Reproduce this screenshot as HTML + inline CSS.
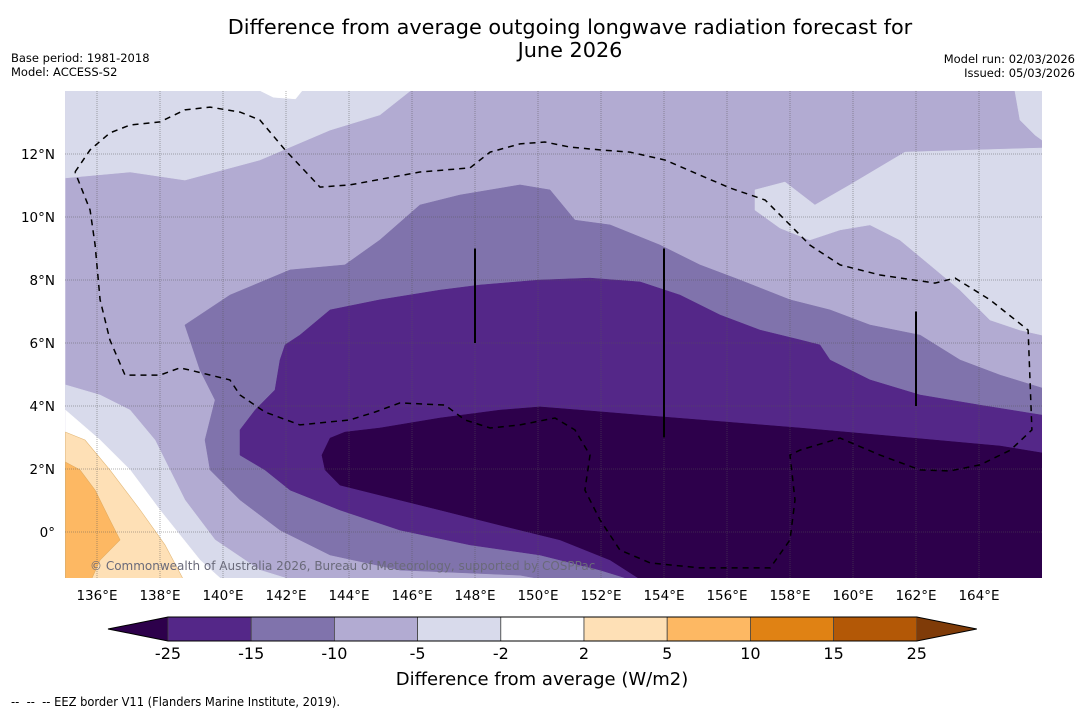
<!DOCTYPE html>
<html><head><meta charset="utf-8">
<style>
html,body{margin:0;padding:0;background:#fff;}
svg{display:block;font-family:"DejaVu Sans","Liberation Sans",sans-serif;}
</style></head>
<body>
<svg id="chart" width="1085" height="713" viewBox="0 0 1085 713">
<text x="570" y="34" text-anchor="middle" font-size="20.8">Difference from average outgoing longwave radiation forecast for</text>
<text x="570" y="57" text-anchor="middle" font-size="20.8">June 2026</text>
<text x="11" y="62" font-size="11.5">Base period: 1981-2018</text>
<text x="11" y="76" font-size="11.5">Model: ACCESS-S2</text>
<text x="1075" y="63" font-size="11.5" text-anchor="end">Model run: 02/03/2026</text>
<text x="1075" y="77" font-size="11.5" text-anchor="end">Issued: 05/03/2026</text>
<defs><clipPath id="mapclip"><rect x="65" y="91" width="977" height="487"/></clipPath></defs>
<g id="map" clip-path="url(#mapclip)"></g>
<g id="axes"></g>
<g id="cbar"></g>
<text x="542" y="685" text-anchor="middle" font-size="18">Difference from average (W/m2)</text>
<text x="11" y="706" font-size="12" textLength="329" lengthAdjust="spacingAndGlyphs" font-family="'DejaVu Sans Condensed','DejaVu Sans',sans-serif">-- &#160;-- &#160;-- EEZ border V11 (Flanders Marine Institute, 2019).</text>
</svg>
<script>
// Axis domain
const lonTicks = [136,138,140,142,144,146,148,150,152,154,156,158,160,162,164];
const latTicks = [0,2,4,6,8,10,12];
const cbLevels = ["-25","-15","-10","-5","-2","2","5","10","15","25"];
const cbColors = ["#542788","#8073ac","#b2abd2","#d8daeb","#ffffff","#fee0b6","#fdb863","#e08214","#b35806"];
const cbLow = "#2d004b", cbHigh = "#7f3b08";

// contour polygons [lon,lat]
const baseFill = [[135,14],[166,14],[166,-1.6],[135,-1.6]];
const lightTopLeft = [[135,14],[145.94,14],[144.98,13.24],[143.4,12.76],[141.17,11.81],[138.79,11.17],[137.05,11.43],[135,11.24]];
const whiteTopPatch = [[141.2,14],[142.5,14],[142.3,13.75],[141.6,13.8]];
const lightTopRight1 = [[165.14,14],[165.3,13.08],[165.78,12.6],[166,12.44],[166,14]];
const lightTopRight2 = [[156.89,10.86],[157.84,11.11],[158.79,10.38],[159.9,11.02],[161.65,12.06],[166,12.19],[166,6.25],[165.3,6.41],[164.35,6.73],[163.4,7.68],[162.44,8.48],[161.49,9.27],[160.54,9.75],[159.59,9.59],[158.63,9.27],[157.68,9.65],[156.89,10.22]];
const lightLeft = [[135,4.67],[136.1,4.35],[137.05,3.87],[137.84,2.92],[138.79,1.02],[139.75,-0.25],[141.17,-1.21],[142.44,-1.6],[135,-1.6]];
const whiteLeft = [[135,3.87],[136.1,2.92],[137.05,1.97],[138,0.7],[139.27,-0.89],[140.06,-1.6],[135,-1.6]];
const orangeLight = [[135,3.17],[135.62,2.92],[136.41,1.97],[137.37,0.7],[138.16,-0.41],[138.79,-1.6],[135,-1.6]];
const orangeMid = [[135,2.22],[135.46,1.97],[135.94,1.33],[136.41,0.38],[136.73,-0.25],[136.1,-0.89],[135.78,-1.6],[135,-1.6]];
const level15 = [[138.79,6.57],[140.22,7.52],[142.13,8.32],[143.87,8.48],[144.98,9.27],[146.25,10.38],[147.52,10.7],[149.43,11.02],[150.38,10.86],[151.17,9.9],[152.29,9.75],[153.87,9.11],[155.14,8.48],[156.41,8],[158,7.37],[159.27,7.05],[160.54,6.57],[162.13,6.25],[163.4,5.46],[164.67,4.98],[166,4.57],[166,-1.6],[150.7,-1.6],[149.43,-1.37],[145.62,-1.21],[143.4,-0.73],[141.81,0.06],[140.54,1.02],[139.59,1.97],[139.43,2.92],[139.75,4.19],[139.27,5.14],[138.95,6.1]];
const level25 = [[141.97,5.94],[142.44,6.25],[143.4,7.05],[144.98,7.37],[146.89,7.68],[148.16,7.84],[150.06,8],[151.65,8.06],[153.24,7.94],[154.51,7.52],[155.78,6.89],[157.05,6.41],[158.32,6.1],[158.95,5.94],[159.27,5.46],[160.54,4.83],[162.13,4.35],[164.03,4.03],[166,3.71],[166,-1.6],[153.24,-1.6],[151.97,-1.21],[150.06,-0.73],[147.84,-0.41],[145.62,0.06],[143.71,0.7],[142.13,1.33],[141.33,1.97],[140.54,2.44],[140.54,3.24],[141.02,3.87],[141.65,4.51],[141.81,5.46]];
const levelMin = [[143.4,2.98],[143.87,3.17],[144.98,3.3],[146.89,3.62],[148.79,3.87],[150.06,3.97],[151.33,3.87],[153.24,3.71],[155.14,3.56],[158.32,3.3],[161.49,3.02],[164.67,2.73],[166,2.51],[166,-1.6],[153.4,-1.6],[152.29,-0.89],[150.7,-0.25],[148.79,0.22],[146.89,0.7],[144.98,1.17],[143.71,1.49],[143.24,1.97],[143.14,2.44]];
const eezLine = [[135.3,11.43],[135.78,12.13],[136.41,12.67],[137.05,12.92],[138,13.02],[138.79,13.4],[139.59,13.49],[140.54,13.33],[141.17,13.08],[141.97,12.13],[143.08,10.95],[144.03,11.02],[146.25,11.43],[147.84,11.56],[148.48,12.06],[149.43,12.32],[150.22,12.38],[151.02,12.22],[151.97,12.13],[152.92,12.06],[154.03,11.81],[155.14,11.33],[156.1,10.92],[157.21,10.54],[158,9.75],[158.63,9.11],[159.59,8.48],[160.86,8.16],[162.6,7.9],[163.24,8.06],[164.35,7.37],[165.56,6.41],[165.62,4.83],[165.68,3.24],[165,2.6],[164.03,2.13],[163.08,1.94],[162.13,1.97],[160.86,2.44],[159.59,2.98],[158.32,2.6],[158,2.44],[158.16,1.02],[158,-0.25],[157.37,-1.14],[155.14,-1.14],[153.56,-0.98],[152.6,-0.57],[151.97,0.38],[151.49,1.33],[151.65,2.44],[151.17,3.24],[150.54,3.62],[149.43,3.4],[148.48,3.3],[147.68,3.56],[147.05,4.03],[145.62,4.1],[144.83,3.81],[144.03,3.56],[142.44,3.4],[141.33,3.81],[140.54,4.35],[140.22,4.83],[138.95,5.14],[138.63,5.21],[138,4.98],[136.89,4.98],[136.41,6.1],[136.1,7.37],[135.94,9.11],[135.78,10.22],[135.3,11.43]];
const blackSegLon = [148,154,162];
const blackSegTop = [9,9,7];
const blackSegBot = [6,3,4];

const NS = "http://www.w3.org/2000/svg";
const X = lon => 65.5 + (lon - 135) * 31.5;
const Y = lat => 91 + (14 - lat) * 31.5;
const map = document.getElementById('map');
const axes = document.getElementById('axes');
const cbar = document.getElementById('cbar');
function mk(tag, attrs, parent){const e=document.createElementNS(NS,tag);for(const k in attrs)e.setAttribute(k,attrs[k]);parent.appendChild(e);return e;}
const pts = arr => arr.map(p => X(p[0]).toFixed(1)+','+Y(p[1]).toFixed(1)).join(' ');

const layers = [
 [baseFill,"#b2abd2","fill-minus10-minus5"],
 [lightTopLeft,"#d8daeb","fill-minus5-minus2-north-west"],
 [whiteTopPatch,"#ffffff","fill-neutral-north"],
 [lightTopRight1,"#d8daeb","fill-minus5-minus2-north-east"],
 [lightTopRight2,"#d8daeb","fill-minus5-minus2-east"],
 [lightLeft,"#d8daeb","fill-minus5-minus2-south-west"],
 [whiteLeft,"#ffffff","fill-neutral-south-west"],
 [orangeLight,"#fee0b6","fill-2-5"],
 [orangeMid,"#fdb863","fill-5-10"],
 [level15,"#8073ac","fill-minus15-minus10"],
 [level25,"#542788","fill-minus25-minus15"],
 [levelMin,"#2d004b","fill-below-minus25"]
];
layers.forEach(([arr,col,name])=>{
 const p = mk('polygon',{points:pts(arr),fill:col,stroke:col,'stroke-width':0.5},map);
 
 
});
[orangeLight,orangeMid].forEach(arr=>{mk('polygon',{points:pts(arr),fill:'none',stroke:'#d9a860','stroke-width':0.6,opacity:0.7},map);});

lonTicks.forEach(lon=>{
 const l = mk('line',{x1:X(lon),x2:X(lon),y1:91,y2:578,stroke:'#555','stroke-width':0.8,'stroke-dasharray':'1,1',opacity:0.6},map);
 
 
});
latTicks.forEach(lat=>{
 const l = mk('line',{x1:65,x2:1042,y1:Y(lat),y2:Y(lat),stroke:'#555','stroke-width':0.8,'stroke-dasharray':'1,1',opacity:0.6},map);
 
 
});
const eez = mk('polyline',{points:pts(eezLine),fill:'none',stroke:'#000','stroke-width':1.5,'stroke-dasharray':'6,5'},map);


blackSegLon.forEach((lon,i)=>{
 const l = mk('line',{x1:X(lon),x2:X(lon),y1:Y(blackSegTop[i]),y2:Y(blackSegBot[i]),stroke:'#000','stroke-width':2},map);
 
 
});
const c = mk('text',{x:90,y:570,'font-size':12,fill:'#6a6a7a'},map);
c.textContent = '\u00a9 Commonwealth of Australia 2026, Bureau of Meteorology, supported by COSPPac';



lonTicks.forEach(lon=>{
 const t = mk('text',{x:X(lon),y:600,'text-anchor':'middle','font-size':13.5},axes);
 t.textContent = lon+'\u00b0E';
 
 
});
latTicks.forEach(lat=>{
 const t = mk('text',{x:55,y:Y(lat)+5,'text-anchor':'end','font-size':13.5},axes);
 t.textContent = lat===0 ? '0\u00b0' : lat+'\u00b0N';
 
 
});

const cbX0 = 168, cbW = 83.2, cbY = 617, cbH = 24;
const lowTri = mk('polygon',{points:`108,${cbY+cbH/2} ${cbX0},${cbY} ${cbX0},${cbY+cbH}`,fill:cbLow},cbar);


cbColors.forEach((col,i)=>{
 const r = mk('rect',{x:cbX0+i*cbW,y:cbY,width:cbW,height:cbH,fill:col,stroke:'#444','stroke-width':0.8},cbar);
 
 
});
const xEnd = cbX0 + cbColors.length*cbW;
const hiTri = mk('polygon',{points:`${xEnd},${cbY} ${xEnd+60},${cbY+cbH/2} ${xEnd},${cbY+cbH}`,fill:cbHigh},cbar);


mk('polygon',{points:`108,${cbY+cbH/2} ${cbX0},${cbY} ${xEnd},${cbY} ${xEnd+60},${cbY+cbH/2} ${xEnd},${cbY+cbH} ${cbX0},${cbY+cbH}`,fill:'none',stroke:'#000','stroke-width':1},cbar);
cbLevels.forEach((lv,i)=>{
 const t = mk('text',{x:cbX0+i*cbW,y:659,'text-anchor':'middle','font-size':16},cbar);
 t.textContent = lv;
 
 
});
</script>
</body></html>
